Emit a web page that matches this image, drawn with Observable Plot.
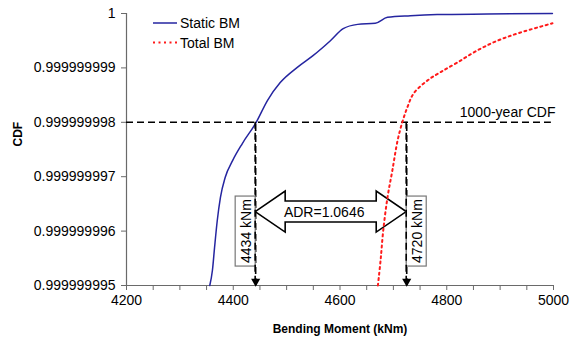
<!DOCTYPE html>
<html><head><meta charset="utf-8">
<script src="https://cdn.jsdelivr.net/npm/d3@7"></script>
<script src="https://cdn.jsdelivr.net/npm/@observablehq/plot@0.6"></script>
<style>
body{margin:0;background:#fff}
#chart{width:574px;height:341px}
</style>
</head><body><div id="chart"></div>
<script>
// ---- data ----
const xMajorTicks = [4200, 4400, 4600, 4800, 5000];
const xMinorTicks = [4200,4250,4300,4350,4400,4450,4500,4550,4600,4650,4700,4750,4800,4850,4900,4950,5000];
const yTicks = [0.999999995, 0.999999996, 0.999999997, 0.999999998, 0.999999999, 1];
const yTickLabels = ["0.999999995","0.999999996","0.999999997","0.999999998","0.999999999","1"];

const seriesNames = ["Static BM", "Total BM"];
const seriesColors = ["#2525a0", "#ff1a1a"];

const staticX   = [4356, 4361, 4365, 4370, 4376, 4385, 4399, 4417, 4443, 4464, 4488, 4520, 4550, 4582, 4606, 4633, 4666, 4689, 4732, 4782, 4876, 4998];
const staticCdf = [0.999999995, 0.99999999528, 0.9999999957, 0.99999999619, 0.99999999662, 0.99999999699, 0.9999999973, 0.99999999761, 0.999999998, 0.9999999984, 0.99999999873, 0.99999999901, 0.99999999923, 0.9999999995, 0.99999999972, 0.9999999998, 0.99999999982, 0.99999999993, 0.99999999996, 0.99999999998, 0.99999999999, 1];

const totalX   = [4671, 4676, 4681, 4689, 4698, 4708, 4717, 4726, 4738, 4764, 4788, 4820, 4857, 4895, 4938, 4998];
const totalCdf = [0.999999995, 0.99999999546, 0.99999999601, 0.99999999662, 0.99999999711, 0.99999999767, 0.99999999801, 0.99999999827, 0.99999999853, 0.99999999877, 0.99999999892, 0.9999999991, 0.99999999932, 0.9999999995, 0.99999999965, 0.99999999982];

const cdf1000 = 0.999999998;
const cdf1000Label = "1000-year CDF";
const crossX = [4442, 4725];
const crossLabels = ["4434 kNm", "4720 kNm"];
const adrLabel = "ADR=1.0646";
const adrCdf = 0.99999999635;
const xTitle = "Bending Moment (kNm)";
const yTitle = "CDF";

// ---- build ----
const rows = [
  ...staticX.map((x, i) => ({series: seriesNames[0], x, y: staticCdf[i]})),
  ...totalX.map((x, i) => ({series: seriesNames[1], x, y: totalCdf[i]}))
];
const xMin = xMinorTicks[0], xMax = xMinorTicks[xMinorTicks.length - 1];
const yMin = yTicks[0], yMax = yTicks[yTicks.length - 1];
const FONT = "'Liberation Sans', Arial, sans-serif";
const dash = "7,4";

const plot = Plot.plot({
  width: 574, height: 341,
  marginLeft: 126, marginRight: 21, marginTop: 13, marginBottom: 56,
  style: {fontFamily: FONT, fontSize: "14px", background: "white", color: "#000", overflow: "visible"},
  x: {domain: [xMin, xMax], label: null},
  y: {domain: [yMin, yMax], label: null},
  marks: [
    Plot.axisX({ticks: xMinorTicks, tickSize: 5, tickPadding: 5, stroke: "#6a6a6a",
      tickFormat: d => xMajorTicks.includes(d) ? String(d) : "", fontSize: 14, label: null}),
    Plot.axisY({ticks: yTicks, tickSize: 5, tickPadding: 6, stroke: "#6a6a6a",
      tickFormat: d => yTickLabels[yTicks.indexOf(d)], fontSize: 14, label: null}),
    Plot.ruleX([xMin], {stroke: "#6a6a6a", strokeWidth: 1.2}),
    Plot.ruleY([yMin], {stroke: "#6a6a6a", strokeWidth: 1.2}),
    Plot.ruleY([cdf1000], {x1: xMin, x2: 4996, stroke: "#000", strokeWidth: 1.6, strokeDasharray: dash}),
    Plot.ruleX(crossX, {y1: yMin, y2: cdf1000, stroke: "#000", strokeWidth: 1.6, strokeDasharray: dash}),
    Plot.dot(crossX, {x: d => d, y: yMin, symbol: "triangle", rotate: 180, r: 3.4, fill: "#000", stroke: null, dy: -4}),
    Plot.line(rows.filter(d => d.series === seriesNames[0]), {x: "x", y: "y", stroke: seriesColors[0], strokeWidth: 1.5, curve: "monotone-x"}),
    Plot.line(rows.filter(d => d.series === seriesNames[1]), {x: "x", y: "y", stroke: seriesColors[1], strokeWidth: 2, strokeDasharray: "2,3.5", curve: "catmull-rom"}),
    Plot.text([cdf1000Label], {x: xMax, y: cdf1000, text: d => d, textAnchor: "end", dx: 2, dy: -10, fontSize: 14, fill: "#000"}),
    Plot.text([adrLabel], {x: (crossX[0] + crossX[1]) / 2, y: adrCdf, text: d => d, fontSize: 14, fill: "#000", dx: -7}),
    Plot.text([xTitle], {frameAnchor: "bottom", dy: 47, text: d => d, fontWeight: "bold", fontSize: 12, fill: "#000"}),
    Plot.text([yTitle], {frameAnchor: "left", dx: -108, dy: -3, rotate: -90, text: d => d, fontWeight: "bold", fontSize: 12, fill: "#000"})
  ]
});

// ---- annotations (double arrow, value boxes, legend) using Plot's scales ----
const sx = plot.scale("x").apply, sy = plot.scale("y").apply;
const svgSel = d3.select(plot);
const lineGroup = plot.querySelector("g[aria-label='line']");
const underG = d3.select(plot.insertBefore(document.createElementNS("http://www.w3.org/2000/svg", "g"), lineGroup));
const tipL = sx(crossX[0]), tipR = sx(crossX[1]), cy = sy(adrCdf);
const hl = 30, hh = 20.5, sh = 10.5;
const pts = [[tipL, cy],[tipL+hl, cy-hh],[tipL+hl, cy-sh],[tipR-hl, cy-sh],[tipR-hl, cy-hh],[tipR, cy],
             [tipR-hl, cy+hh],[tipR-hl, cy+sh],[tipL+hl, cy+sh],[tipL+hl, cy+hh]];
underG.append("path").attr("d", "M" + pts.map(p => p.join(",")).join("L") + "Z")
  .attr("fill", "#fff").attr("stroke", "#000").attr("stroke-width", 1.6).attr("stroke-linejoin", "miter");

const overG = svgSel.append("g").attr("font-family", FONT).attr("font-size", 14);
crossX.forEach((v, i) => {
  const xl = sx(v), w = 20, h = 70;
  const x0 = i === 0 ? xl - w : xl;
  const yc = cy + 19.5;
  overG.append("rect").attr("x", x0).attr("y", yc - h / 2).attr("width", w).attr("height", h)
    .attr("fill", "#fff").attr("stroke", "#777").attr("stroke-width", 1.2);
  overG.append("text").attr("transform", `translate(${x0 + w / 2 + 0.5},${yc}) rotate(-90)`)
    .attr("text-anchor", "middle").attr("dominant-baseline", "central").attr("fill", "#000")
    .text(crossLabels[i]);
});
crossX.forEach(v => {
  overG.append("line").attr("x1", sx(v)).attr("x2", sx(v)).attr("y1", sy(cdf1000)).attr("y2", sy(yMin) - 6)
    .attr("stroke", "#000").attr("stroke-width", 1.6).attr("stroke-dasharray", dash);
});

// legend
const lg = svgSel.append("g").attr("font-family", FONT).attr("font-size", 14).attr("text-anchor", "start");
seriesNames.forEach((name, i) => {
  const y = 23 + i * 19.5;
  lg.append("line").attr("x1", 153).attr("x2", 177).attr("y1", y).attr("y2", y)
    .attr("stroke", seriesColors[i]).attr("stroke-width", i ? 2 : 1.5)
    .attr("stroke-dasharray", i ? "2,3.5" : null);
  lg.append("text").attr("x", 180).attr("y", y).attr("text-anchor", "start")
    .attr("dominant-baseline", "central").attr("fill", "#000").text(name);
});

document.getElementById("chart").appendChild(plot);
</script>
</body></html>
